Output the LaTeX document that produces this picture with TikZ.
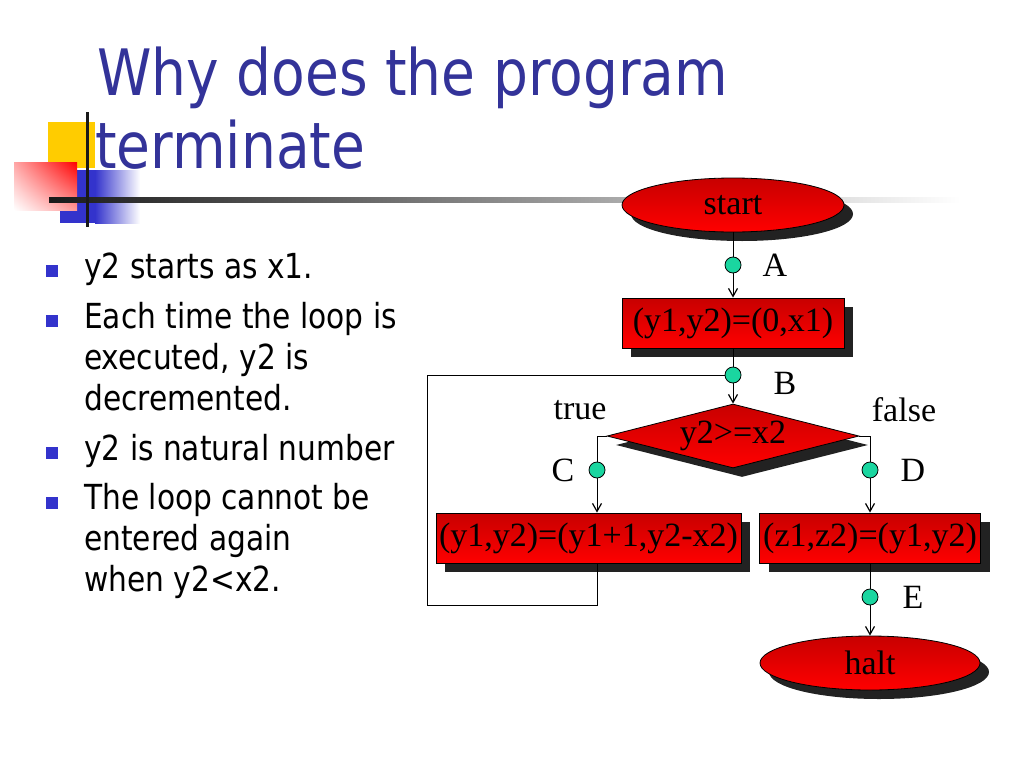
\documentclass[tikz,border=0pt]{standalone}
\usepackage{fontspec}
\setmainfont{Liberation Serif}
\newfontfamily\tahoma{DejaVu Sans}[FakeStretch=0.86]
\usetikzlibrary{shapes.geometric,shadows,shadings,arrows.meta}
\definecolor{titleblue}{RGB}{51,51,153}
\definecolor{bulletblue}{RGB}{51,51,204}
\definecolor{boxred}{RGB}{255,0,0}
\definecolor{boxdark}{RGB}{200,0,0}
\definecolor{shadowgray}{RGB}{34,34,34}
\definecolor{pointgreen}{RGB}{26,214,160}
\definecolor{decoyellow}{RGB}{255,204,0}
\pgfdeclarelayer{edgelayer}
\pgfdeclarelayer{nodelayer}
\pgfsetlayers{edgelayer,nodelayer,main}
\tikzstyle{edge}=[draw=black, line width=1pt]
\tikzstyle{flow}=[edge, -{Straight Barb[length=8pt,width=9pt,line width=1.2pt]}]
\tikzstyle{redshape}=[draw=black, line width=0.8pt, top color=boxdark, bottom color=boxred, inner sep=1pt, font=\fontsize{34}{40}\selectfont, drop shadow={shadow xshift=9pt, shadow yshift=-9pt, opacity=1, fill=shadowgray}]
\tikzstyle{terminal}=[redshape, ellipse, inner sep=0pt, minimum width=222pt, minimum height=54pt]
\tikzstyle{process}=[redshape, rectangle, minimum height=50pt]
\tikzstyle{decision}=[redshape, diamond, aspect=3.9, inner sep=0pt, minimum width=252pt, minimum height=64pt]
\tikzstyle{point}=[circle, draw=black, line width=0.8pt, fill=pointgreen, minimum size=16pt, inner sep=0pt]
\tikzstyle{tag}=[font=\fontsize{34}{40}\selectfont, inner sep=0pt]
\tikzstyle{heading}=[font=\tahoma\fontsize{64}{73}\selectfont, text=titleblue, anchor=base west, inner sep=0pt]
\tikzstyle{item}=[font=\tahoma\fontsize{34.5}{42}\selectfont, anchor=base west, inner sep=0pt]
\tikzstyle{bullet}=[fill=bulletblue, minimum size=12pt, inner sep=0pt]

\begin{document}
\begin{tikzpicture}[x=1pt, y=-1pt]
	\useasboundingbox (0,0) rectangle (1024,768);
	\begin{pgfonlayer}{edgelayer}
		% corner ornament
		\fill[decoyellow] (48,122) rectangle (95,168);
		\fill[bulletblue] (60,170) rectangle (95,223);
		\shade[left color=bulletblue, right color=white] (95,170) rectangle (140,223);
		\shade[upper right=red, upper left=red!35, lower right=red!40, lower left=white] (14,162) rectangle (77,210);
		\shade[left color=black!90, right color=white] (49,197.5) rectangle (960,202.5);
		\fill[black!90] (85.5,112) rectangle (88.5,227);
	\end{pgfonlayer}
	\begin{pgfonlayer}{nodelayer}
		\node [heading] (title1) at (97,95) {Why does the program};
		\node [heading] (title2) at (95,168) {terminate};

		\node [bullet] (dot1) at (52,271) {};
		\node [bullet] (dot2) at (52,321) {};
		\node [bullet] (dot3) at (52,453) {};
		\node [bullet] (dot4) at (52,503) {};
		\node [item] (line1) at (84,278) {y2 starts as x1.};
		\node [item] (line2) at (84,328) {Each time the loop is};
		\node [item] (line3) at (84,369) {executed, y2 is};
		\node [item] (line4) at (84,410) {decremented.};
		\node [item] (line5) at (84,460) {y2 is natural number};
		\node [item] (line6) at (84,509) {The loop cannot be};
		\node [item] (line7) at (84,550) {entered again};
		\node [item] (line8) at (84,591) {when y2<x2.};

		\node [terminal] (start) at (733,205) {start};
		\node [point] (a) at (733,265) {};
		\node [process, minimum width=222pt] (init) at (733,323) {(y1,y2)=(0,x1)};
		\node [point] (b) at (733,375) {};
		\node [decision] (test) at (733,436) {y2>=x2};
		\node [point] (c) at (597,470) {};
		\node [point] (d) at (870,470) {};
		\node [process, minimum width=305pt] (body) at (588.5,538) {(y1,y2)=(y1+1,y2-x2)};
		\node [process, minimum width=221pt] (exit) at (870,538) {(z1,z2)=(y1,y2)};
		\node [point] (e) at (870,597) {};
		\node [terminal, minimum width=220pt] (halt) at (870,663) {halt};

		\node [tag] (tagA) at (775,265) {A};
		\node [tag] (tagB) at (785,383) {B};
		\node [tag] (tagC) at (563,470) {C};
		\node [tag] (tagD) at (913,470) {D};
		\node [tag] (tagE) at (913,597) {E};
		\node [tag] (tagtrue) at (580,410) {true};
		\node [tag] (tagfalse) at (904,410) {false};
		\coordinate (loop) at (427,605);
	\end{pgfonlayer}
	\draw [style=edge] (start) to (a);
	\draw [style=flow] (a) to (init);
	\draw [style=edge] (init) to (b);
	\draw [style=flow] (b) to (test);
	\draw [style=edge] (test.west) -| (c);
	\draw [style=edge] (test.east) -| (d);
	\draw [style=flow] (c) to (c |- body.north);
	\draw [style=flow] (d) to (exit);
	\draw [style=edge] (exit) to (e);
	\draw [style=flow] (e) to (halt);
	\draw [style=edge] (c |- body.south) |- (loop) |- (b);
\end{tikzpicture}
\end{document}
